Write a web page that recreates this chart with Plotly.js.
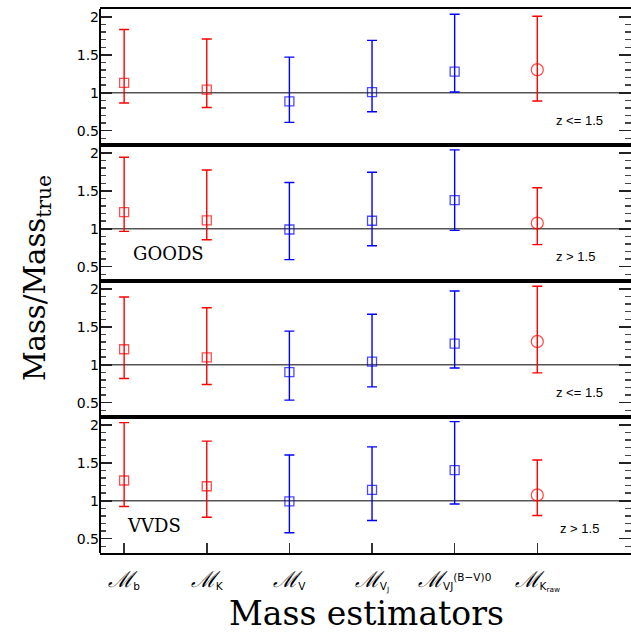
<!DOCTYPE html>
<html><head><meta charset="utf-8">
<script src="https://cdn.plot.ly/plotly-3.0.1.min.js"></script>
<style>body{margin:0;padding:0;background:#fff}#chart{width:631px;height:635px}</style>
</head><body><div id="chart"></div>
<script>
// Categories (mass estimators), x positions 1..6
const estimatorPos = [1, 2, 3, 4, 5, 6];
const M = "<span style='font-family:DejaVu Serif;font-size:22px;font-style:italic'>ℳ</span>";
const estimatorLabels = [
  M + '<sub>b</sub>',
  M + '<sub>K</sub>',
  M + '<sub>V</sub>',
  M + '<sub>V<sub>J</sub></sub>',
  M + '<sub>VJ</sub><sup>(B−V)0</sup>',
  M + '<sub>K<sub>raw</sub></sub>'
];
const estimatorGroup = ['red', 'red', 'blue', 'blue', 'blue', 'red'];
const estimatorSymbol = ['square-open', 'square-open', 'square-open', 'square-open', 'square-open', 'circle-open'];

// Panel 1: GOODS, z <= 1.5
const goodsLowMid = [1.13, 1.04, 0.887, 1.009, 1.278, 1.304];
const goodsLowHi  = [1.835, 1.709, 1.47, 1.691, 2.035, 2.009];
const goodsLowLo  = [0.865, 0.804, 0.609, 0.748, 1.009, 0.891];
// Panel 2: GOODS, z > 1.5
const goodsHighMid = [1.22, 1.11, 0.99, 1.105, 1.377, 1.075];
const goodsHighHi  = [1.943, 1.776, 1.61, 1.746, 2.04, 1.54];
const goodsHighLo  = [0.965, 0.855, 0.592, 0.776, 0.978, 0.79];
// Panel 3: VVDS, z <= 1.5
const vvdsLowMid = [1.204, 1.098, 0.902, 1.04, 1.278, 1.307];
const vvdsLowHi  = [1.893, 1.751, 1.444, 1.667, 1.973, 2.036];
const vvdsLowLo  = [0.818, 0.738, 0.533, 0.707, 0.956, 0.893];
// Panel 4: VVDS, z > 1.5
const vvdsHighMid = [1.267, 1.191, 0.991, 1.142, 1.404, 1.076];
const vvdsHighHi  = [2.031, 1.787, 1.604, 1.711, 2.044, 1.538];
const vvdsHighLo  = [0.924, 0.782, 0.578, 0.738, 0.956, 0.804];

const panels = [
  {mid: goodsLowMid, hi: goodsLowHi, lo: goodsLowLo, z: 'z <= 1.5', zx: 6.51, survey: ''},
  {mid: goodsHighMid, hi: goodsHighHi, lo: goodsHighLo, z: 'z > 1.5', zx: 6.46, survey: 'GOODS'},
  {mid: vvdsLowMid, hi: vvdsLowHi, lo: vvdsLowLo, z: 'z <= 1.5', zx: 6.51, survey: ''},
  {mid: vvdsHighMid, hi: vvdsHighHi, lo: vvdsHighLo, z: 'z > 1.5', zx: 6.51, survey: 'VVDS'}
];
const colorMap = {red: '#ff0000', blue: '#0000ff'};

const traces = [];
const layout = {
  width: 631, height: 635,
  margin: {l: 100, r: 0, t: 9, b: 82},
  paper_bgcolor: '#fff', plot_bgcolor: '#fff',
  showlegend: false,
  shapes: [], annotations: []
};
const yRange = [0.31, 2.105];
const xRange = [0.708, 7.134];

panels.forEach((p, i) => {
  const n = i + 1;
  const xa = n === 1 ? 'x' : 'x' + n;
  const ya = n === 1 ? 'y' : 'y' + n;
  ['red', 'blue'].forEach(g => {
    const idx = estimatorPos.map((_, k) => k).filter(k => estimatorGroup[k] === g);
    traces.push({
      type: 'scatter', mode: 'markers',
      x: idx.map(k => estimatorPos[k]),
      y: idx.map(k => p.mid[k]),
      xaxis: xa, yaxis: ya,
      marker: {symbol: idx.map(k => estimatorSymbol[k]),
               size: idx.map(k => estimatorSymbol[k] === 'circle-open' ? 12 : 9),
               color: colorMap[g], line: {width: 1.3, color: colorMap[g]}},
      error_y: {type: 'data', symmetric: false,
                array: idx.map(k => p.hi[k] - p.mid[k]),
                arrayminus: idx.map(k => p.mid[k] - p.lo[k]),
                color: colorMap[g], thickness: 1.4, width: 5},
      hoverinfo: 'skip'
    });
  });
  const top = 1 - i * 0.25, bot = 1 - (i + 1) * 0.25;
  const isBottom = n === 4;
  layout['yaxis' + (n === 1 ? '' : n)] = {
    domain: [bot, top], range: yRange, anchor: xa,
    tick0: 0.5, dtick: 0.5,
    ticks: 'inside', ticklen: 12, tickwidth: 1.6, tickcolor: '#222',
    minor: {tick0: 0.5, dtick: 0.1, ticks: 'inside', ticklen: 6, tickwidth: 1.3, tickcolor: '#444'},
    showline: false, mirror: 'allticks',
    showgrid: false, zeroline: false,
    tickfont: {family: 'DejaVu Sans', size: 14, color: '#000'}
  };
  layout['xaxis' + (n === 1 ? '' : n)] = {
    domain: [0, 1], range: xRange, anchor: ya,
    tickmode: 'array', tickvals: estimatorPos, ticktext: estimatorLabels,
    showticklabels: isBottom,
    ticks: isBottom ? 'inside' : '', ticklen: 10, tickwidth: 1.5, tickcolor: '#333',
    showline: true, linewidth: 2, linecolor: '#000', mirror: true,
    showgrid: false, zeroline: false,
    tickfont: {family: 'DejaVu Sans', size: 15, color: '#000'},
    ticklabelstandoff: 14
  };
  layout.shapes.push({type: 'line', xref: xa + ' domain', x0: 0, x1: 1, yref: ya, y0: 1, y1: 1,
    line: {color: '#555', width: 1.5}, layer: 'below'});
  layout.shapes.push({type: 'line', xref: xa + ' domain', x0: 0, x1: 0, yref: ya + ' domain', y0: 0, y1: 1,
    line: {color: '#000', width: 2}, layer: 'above'});
  layout.annotations.push({xref: xa, yref: ya, x: p.zx, y: 0.64, text: p.z, showarrow: false,
    font: {family: 'Liberation Sans', size: 13, color: '#000'}});
  if (p.survey) {
    layout.annotations.push({xref: xa, yref: ya, x: p.survey === 'GOODS' ? 1.54 : 1.36, y: 0.67,
      text: p.survey, showarrow: false, font: {family: 'DejaVu Serif', size: 18, color: '#000'}});
  }
});

layout.annotations.push({xref: 'paper', yref: 'paper', x: -0.119, y: 0.505, textangle: -90,
  xanchor: 'center', yanchor: 'middle',
  text: 'Mass/Mass<sub>true</sub>', showarrow: false,
  font: {family: 'DejaVu Serif', size: 29, color: '#000'}});
layout.annotations.push({xref: 'paper', yref: 'paper', x: 0.501, y: -0.112, xanchor: 'center', yanchor: 'middle',
  text: 'Mass estimators', showarrow: false,
  font: {family: 'DejaVu Serif', size: 33, color: '#000'}});

Plotly.newPlot('chart', traces, layout, {displayModeBar: false, staticPlot: true});
</script></body></html>
